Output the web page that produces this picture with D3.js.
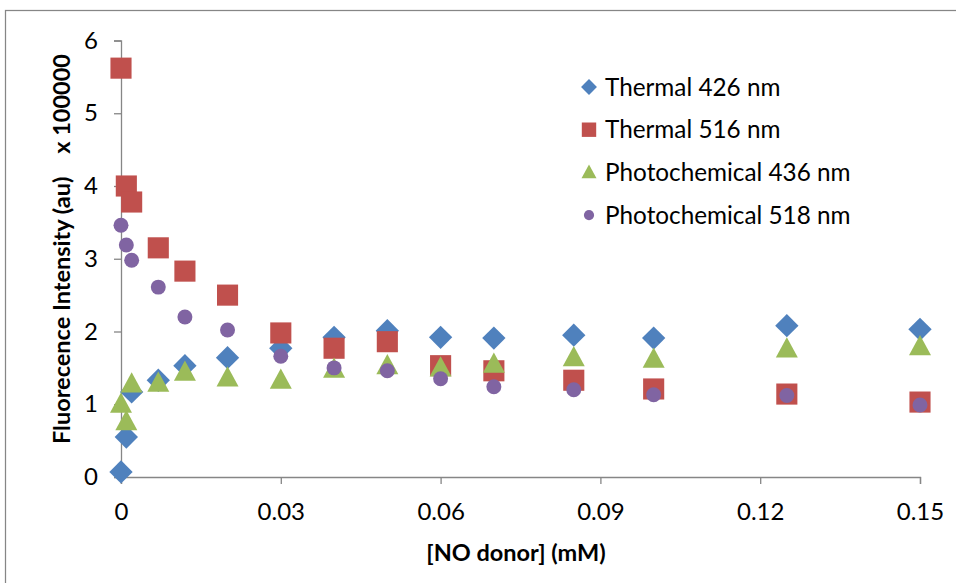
<!DOCTYPE html>
<html>
<head>
<meta charset="utf-8">
<script src="https://cdn.jsdelivr.net/npm/d3@7"></script>
<style>
  html, body { margin: 0; padding: 0; background: #fff; }
  svg { display: block; }
  text { font-family: Lato, "Open Sans", sans-serif; fill: #000; }
</style>
</head>
<body>
<svg id="chart" width="956" height="583"></svg>
<script>
// ---- data ----
const xTicks = [0, 0.03, 0.06, 0.09, 0.12, 0.15];
const xTickLabels = ["0", "0.03", "0.06", "0.09", "0.12", "0.15"];
const yTicks = [0, 1, 2, 3, 4, 5, 6];
const yTickLabels = ["0", "1", "2", "3", "4", "5", "6"];

const seriesNames = ["Thermal 426 nm", "Thermal 516 nm", "Photochemical 436 nm", "Photochemical 518 nm"];
const seriesColors = ["#4F81BD", "#C0504D", "#9BBB59", "#8064A2"];
const seriesShapes = ["diamond", "square", "triangle", "circle"];

const donorConc = [0, 0.001, 0.002, 0.007, 0.012, 0.02, 0.03, 0.04, 0.05, 0.06, 0.07, 0.085, 0.1, 0.125, 0.15];
const thermal426 = [0.07, 0.55, 1.17, 1.33, 1.53, 1.64, 1.77, 1.92, 2.01, 1.92, 1.91, 1.95, 1.91, 2.08, 2.03];
const thermal516 = [5.62, 4.0, 3.78, 3.15, 2.83, 2.50, 1.98, 1.77, 1.86, 1.53, 1.46, 1.33, 1.21, 1.14, 1.03];
const photo436 = [1.0, 0.76, 1.28, 1.29, 1.44, 1.36, 1.33, 1.48, 1.53, 1.50, 1.55, 1.64, 1.62, 1.76, 1.79];
const photo518 = [3.46, 3.19, 2.98, 2.61, 2.20, 2.02, 1.66, 1.50, 1.46, 1.35, 1.24, 1.20, 1.13, 1.12, 0.99];
const seriesValues = [thermal426, thermal516, photo436, photo518];

const xTitle = "[NO donor] (mM)";
const yTitle = "Fluorecence Intensity (au)    x 100000";

// ---- layout ----
const svg = d3.select("#chart");
const plot = { left: 121, right: 920, top: 40.5, bottom: 477 };

const x = d3.scaleLinear().domain([0, 0.15]).range([plot.left, plot.right]);
const y = d3.scaleLinear().domain([0, 6]).range([plot.bottom, plot.top]);

// outer frame
svg.append("rect")
  .attr("x", 5.5).attr("y", 10.5).attr("width", 1000).attr("height", 1000)
  .attr("fill", "none").attr("stroke", "#868686").attr("stroke-width", 1.25);

const axisColor = "#868686";

// y axis
const yAxis = svg.append("g").attr("transform", `translate(${plot.left},0)`)
  .call(d3.axisLeft(y).tickValues(yTicks).tickFormat((d, i) => yTickLabels[i]).tickSizeOuter(0).tickSize(7).tickPadding(16));
yAxis.select(".domain").attr("stroke", axisColor).attr("stroke-width", 1.3);
yAxis.selectAll(".tick line").attr("stroke", axisColor).attr("stroke-width", 1.3);
yAxis.selectAll(".tick text").style("font-size", "24px").style("font-family", "Lato").attr("fill", "#1a1a1a");

// x axis
const xAxis = svg.append("g").attr("transform", `translate(0,${plot.bottom})`)
  .call(d3.axisBottom(x).tickValues(xTicks).tickFormat((d, i) => xTickLabels[i]).tickSizeOuter(0).tickSize(7).tickPadding(19));
xAxis.select(".domain").attr("stroke", axisColor).attr("stroke-width", 1.3);
xAxis.selectAll(".tick line").attr("stroke", axisColor).attr("stroke-width", 1.3);
xAxis.selectAll(".tick text").style("font-size", "24px").style("font-family", "Lato").attr("fill", "#1a1a1a");

// axis titles
svg.append("text")
  .attr("x", 516).attr("y", 561)
  .attr("text-anchor", "middle")
  .style("font-size", "23.5px").style("font-weight", "bold")
  .text(xTitle);

svg.append("text")
  .attr("transform", "translate(70,249) rotate(-90)")
  .attr("text-anchor", "middle")
  .style("font-size", "23.5px").style("font-weight", "bold").style("white-space", "pre")
  .text(yTitle);

// marker shapes
function shapePath(shape, s) {
  const p = d3.path();
  if (shape === "diamond") {
    const r = s * 0.53;
    p.moveTo(0, -r); p.lineTo(r, 0); p.lineTo(0, r); p.lineTo(-r, 0); p.closePath();
  } else if (shape === "square") {
    const h = s * 0.48;
    p.rect(-h, -h, 2 * h, 2 * h);
  } else if (shape === "triangle") {
    const w = s * 0.5, hh = s * 0.92;
    p.moveTo(0, -hh * 0.58); p.lineTo(w, hh * 0.42); p.lineTo(-w, hh * 0.42); p.closePath();
  } else {
    const r = s * 0.34;
    p.arc(0, 0, r, 0, 2 * Math.PI); p.closePath();
  }
  return p.toString();
}

// data points (series drawn in order; later on top)
seriesValues.forEach((vals, si) => {
  svg.append("g").selectAll("path")
    .data(vals.map((v, i) => ({ x: donorConc[i], y: v })))
    .join("path")
    .attr("transform", d => `translate(${x(d.x)},${y(d.y)})`)
    .attr("d", shapePath(seriesShapes[si], 22))
    .attr("fill", seriesColors[si]);
});

// legend
const legend = svg.append("g");
const legendY0 = 87, legendDy = 42.7;
seriesNames.forEach((name, i) => {
  const gy = legendY0 + i * legendDy;
  legend.append("path")
    .attr("transform", `translate(589,${gy})`)
    .attr("d", shapePath(seriesShapes[i], 15))
    .attr("fill", seriesColors[i]);
  legend.append("text")
    .attr("x", 605).attr("y", gy)
    .attr("dy", "0.35em")
    .style("font-size", "24.3px")
    .attr("fill", "#1a1a1a")
    .text(name);
});
</script>
</body>
</html>
